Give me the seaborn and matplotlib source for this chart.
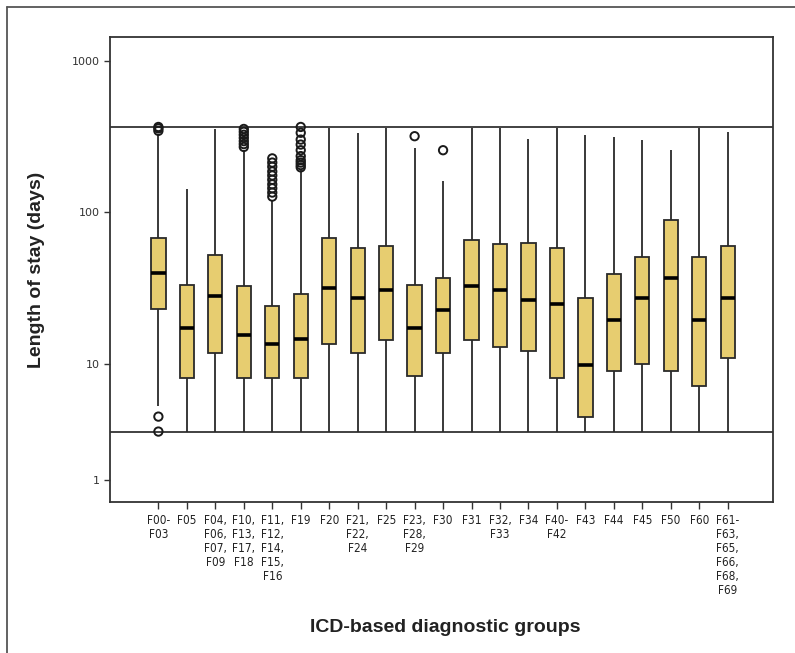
import numpy as np
import pandas as pd
import matplotlib
matplotlib.use("Agg")
import matplotlib.pyplot as plt
from matplotlib.lines import Line2D
import seaborn as sns

# diagnostic groups (tick labels)
groups = ["F00-\nF03", "F05", "F04,\nF06,\nF07,\nF09", "F10,\nF13,\nF17,\nF18",
          "F11,\nF12,\nF14,\nF15,\nF16", "F19", "F20", "F21,\nF22,\nF24", "F25",
          "F23,\nF28,\nF29", "F30", "F31", "F32,\nF33", "F34", "F40-\nF42", "F43",
          "F44", "F45", "F50", "F60", "F61-\nF63,\nF65,\nF66,\nF68,\nF69"]

# box summaries (days)
whisker_low = [4.3, 2.6, 2.6, 2.6, 2.6, 2.6, 2.6, 2.6, 2.6, 2.6, 2.6,
               2.6, 2.6, 2.6, 2.6, 2.6, 2.6, 2.6, 2.6, 2.6, 2.6]
q1 = [23, 7.5, 11.7, 7.5, 7.5, 7.5, 13.6, 11.7, 14.4, 7.8, 11.7,
      14.4, 12.9, 12.1, 7.6, 3.45, 8.75, 10, 8.6, 6.4, 10.9]
median = [40, 17.3, 28, 15.6, 13.6, 14.6, 31.6, 27.2, 30.5, 17.3, 22.5,
          32.6, 30.5, 26.2, 24.7, 9.7, 19.5, 27.2, 37, 19.5, 27.2]
q3 = [68, 33, 52.5, 32.6, 24, 29, 67.6, 58.5, 60, 33, 37,
      65.3, 61.5, 63, 58, 27.3, 39.4, 50.7, 88.5, 50.7, 60]
whisker_high = [330, 143, 354, 257, 120, 190, 360, 334, 360, 264, 161,
                360, 360, 307, 360, 323, 312, 299, 257, 360, 340]

# outliers per group index
outliers = {
    0: [345, 358, 366, 3.5, 2.6],
    3: [270, 282, 295, 310, 325, 340, 355],
    4: [127, 135, 144, 153, 164, 175, 186, 200, 213, 227],
    5: [198, 205, 213, 221, 235, 257, 280, 302, 335, 366],
    9: [318],
    10: [257],
}

# horizontal reference lines
ref_lines = [365, 2.6]

rows = []
for i, g in enumerate(groups):
    for v in (whisker_low[i], q1[i], median[i], q3[i], whisker_high[i]):
        rows.append({"group": g, "days": v})
df = pd.DataFrame(rows)
out_df = pd.DataFrame([{"group": groups[i], "days": v}
                       for i, vals in outliers.items() for v in vals])

# the printed axis is squeezed below 10 days
k = 115.7 / 151.3


def fwd(v):
    L = np.log10(np.clip(v, 1e-6, None))
    return np.where(L < 1, 1 + (L - 1) * k, L)


def inv(u):
    u = np.asarray(u, dtype=float)
    L = np.where(u < 1, 1 + (u - 1) / k, u)
    return 10 ** L


sns.set_style("white")
plt.rcParams["font.family"] = ["DejaVu Sans"]

fig = plt.figure(figsize=(7.95, 6.53), dpi=100)
ax = fig.add_axes([110 / 795, 1 - 501.7 / 653, 663.3 / 795, 464.4 / 653])

sns.boxplot(data=df, x="group", y="days", order=groups, whis=np.inf,
            width=0.5, color="#E7CD70", saturation=1, linecolor="#2a2a2a",
            linewidth=1.3, showcaps=False, showfliers=False,
            medianprops={"color": "black", "linewidth": 2.6}, ax=ax)
sns.stripplot(data=out_df, x="group", y="days", order=groups, jitter=False,
              marker="o", size=6, color="none", edgecolor="#1a1a1a",
              linewidth=1.4, ax=ax)
for c in ax.collections:
    c.set_facecolor("none")

for r in ref_lines:
    ax.axhline(r, color="#333333", lw=1.3, zorder=0)

ax.set_yscale("function", functions=(fwd, inv))
ax.set_ylim(0.645, 1430)
ax.set_xlim(-1.7, 21.6)
ax.set_yticks([1, 10, 100, 1000])
ax.set_yticklabels(["1", "10", "100", "1000"])
ax.yaxis.set_minor_locator(matplotlib.ticker.NullLocator())

ax.tick_params(axis="y", direction="out", length=4, width=1, color="#333333",
               labelsize=8, labelcolor="#333333", left=True)
ax.tick_params(axis="x", direction="out", length=5, width=1, color="#333333",
               labelsize=8.5, labelcolor="#222222", bottom=True, pad=4)
for lab in ax.get_xticklabels():
    lab.set_linespacing(1.1)
    lab.set_fontstretch("condensed")
    lab.set_fontweight("medium")

for s in ax.spines.values():
    s.set_visible(True)
    s.set_color("#333333")
    s.set_linewidth(1.3)

ax.set_xlabel("ICD-based diagnostic groups", fontsize=14, fontweight="bold",
              family="Liberation Sans", color="#222222")
ax.set_ylabel("Length of stay (days)", fontsize=14, fontweight="bold",
              family="Liberation Sans", color="#222222")
ax.xaxis.set_label_coords(0.505, -0.252)
ax.yaxis.set_label_coords(-0.098, 0.5)

# page frame
fx = 7 / 795
fy = 1 - 7 / 653
fig.add_artist(Line2D([fx, fx], [0, fy], color="#555555", lw=1.3))
fig.add_artist(Line2D([fx, 1], [fy, fy], color="#555555", lw=1.3))

fig.savefig("out.png", dpi=100)
